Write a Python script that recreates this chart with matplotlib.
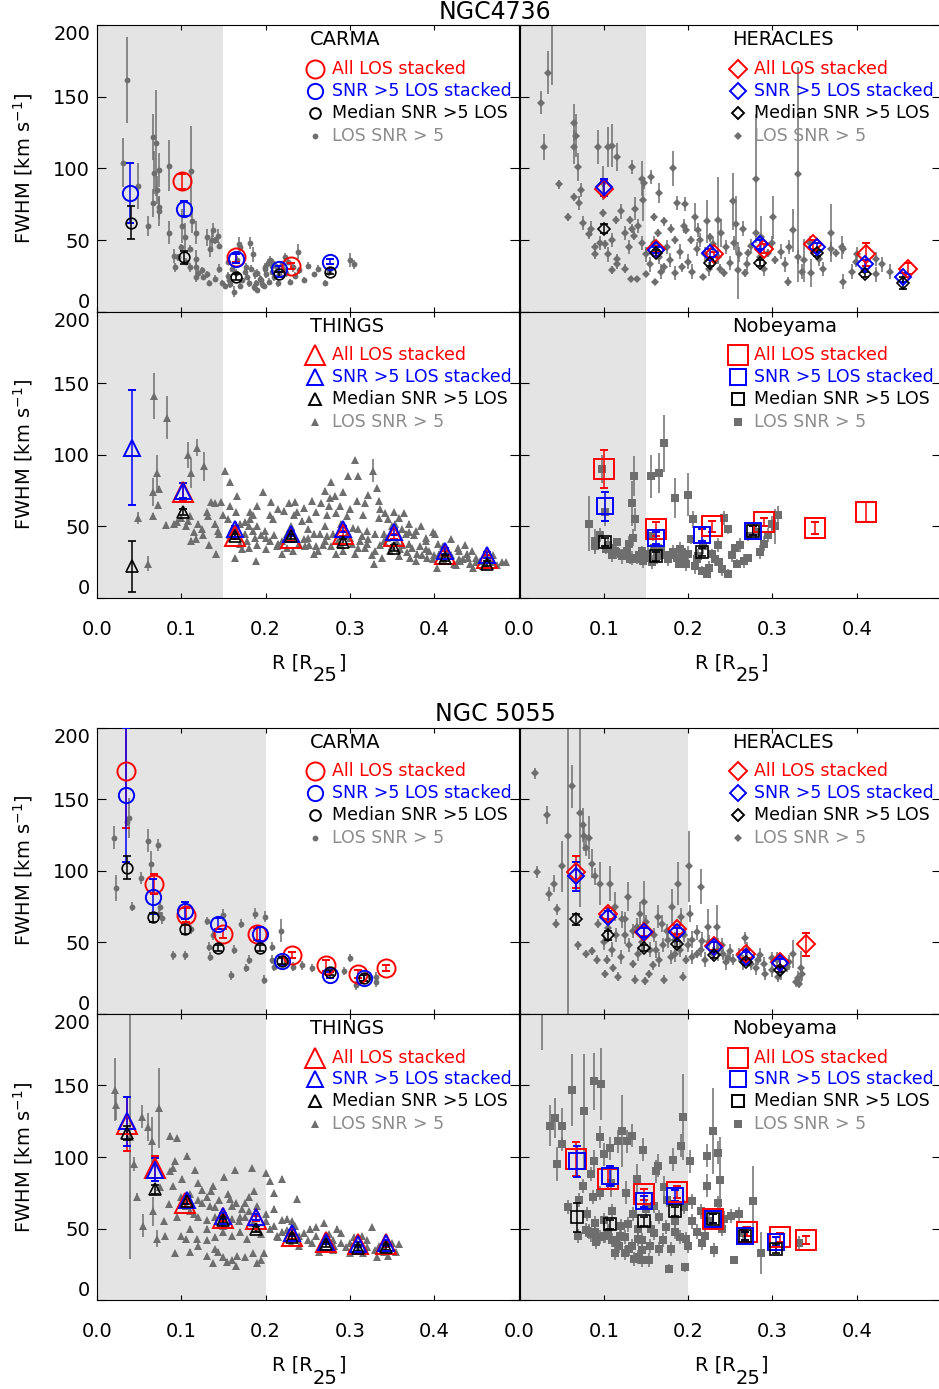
import numpy as np
import matplotlib.pyplot as plt

plt.rcParams.update({'font.family': 'DejaVu Sans', 'mathtext.default': 'regular'})

# ---------------- NGC4736 ----------------
# CARMA, single lines of sight (radius, FWHM, error)
n4736_carma_r = [0.035, 0.031, 0.049, 0.060, 0.066, 0.070, 0.068, 0.073, 0.071, 0.067,
                 0.073, 0.074, 0.086, 0.085, 0.091, 0.092, 0.112, 0.101, 0.104, 0.113,
                 0.117, 0.118, 0.118, 0.110, 0.117, 0.126, 0.133, 0.131, 0.136, 0.138,
                 0.134, 0.143, 0.145, 0.148, 0.152, 0.156, 0.162, 0.168, 0.166, 0.182,
                 0.185, 0.178, 0.172, 0.189, 0.195, 0.198, 0.203, 0.199, 0.208, 0.221,
                 0.170, 0.177, 0.187, 0.190, 0.199, 0.205, 0.209, 0.223, 0.238, 0.233,
                 0.245, 0.257, 0.270, 0.275, 0.229, 0.300, 0.305]
n4736_carma_v = [162, 104, 88, 60, 122, 118, 97, 99, 85, 76,
                 73, 70, 102, 55, 39, 31, 98, 60, 52, 63,
                 55, 37, 31, 31, 24, 24, 20, 52, 50, 57,
                 44, 53, 30, 20, 18, 22, 14, 47, 36, 48,
                 40, 24, 22, 20, 22, 18, 34, 31, 32, 30,
                 45, 31, 26, 15, 30, 36, 34, 38, 42, 31,
                 22, 26, 20, 28, 21, 36, 33]
n4736_carma_e = [30, 17, 16, 7, 16, 37, 15, 12, 10, 10,
                 8, 10, 18, 8, 5, 3, 32, 12, 10, 8,
                 8, 6, 4, 3, 3, 2, 2, 6, 8, 5,
                 6, 5, 3, 2, 2, 2, 4, 5, 3, 4,
                 5, 2, 2, 2, 3, 2, 3, 3, 3, 3,
                 3, 3, 3, 2, 3, 3, 3, 3, 5, 3,
                 2, 2, 2, 3, 2, 5, 3]
# densely packed low-error points
n4736_carma_dr = [0.155, 0.158, 0.165, 0.170, 0.175, 0.180, 0.183, 0.186, 0.190, 0.193,
                  0.196, 0.200, 0.204, 0.207, 0.210, 0.213, 0.216, 0.219, 0.224, 0.227,
                  0.235, 0.240, 0.250, 0.262, 0.155, 0.160, 0.215, 0.120, 0.125, 0.140,
                  0.130, 0.096, 0.105, 0.100, 0.110, 0.145, 0.140]
n4736_carma_dv = [25, 19, 27, 18, 28, 20, 30, 17, 27, 23,
                  19, 26, 21, 28, 24, 31, 26, 33, 27, 35,
                  25, 29, 32, 30, 35, 30, 20, 27, 29, 23,
                  26, 38, 35, 45, 44, 46, 50]
# stacked spectra and medians
n4736_carma_all = ([0.1005, 0.1645, 0.2301], [91, 38, 32], [5, 3, 2])
n4736_carma_snr = ([0.039, 0.1036, 0.1645, 0.2163, 0.276], [83, 72, 37, 30, 35], [21, 5.5, 3, 2, 2])
n4736_carma_med = ([0.040, 0.1036, 0.1645, 0.2163, 0.276], [62, 38, 24, 26, 28], [11.5, 4.5, 2, 2, 2])

# HERACLES
n4736_hera_r = [0.034, 0.038, 0.025, 0.029, 0.047, 0.058, 0.065, 0.065, 0.067, 0.069,
                0.065, 0.071, 0.073, 0.082, 0.090, 0.090, 0.093, 0.099, 0.099, 0.102,
                0.105, 0.110, 0.116, 0.115, 0.116, 0.116, 0.110, 0.125, 0.133, 0.137,
                0.131, 0.134, 0.136, 0.132, 0.139, 0.145, 0.148, 0.147, 0.150, 0.156,
                0.160, 0.161, 0.166, 0.164, 0.172, 0.172, 0.180, 0.182, 0.184, 0.187,
                0.196, 0.193, 0.198, 0.204, 0.208, 0.214, 0.218, 0.222, 0.226, 0.236,
                0.238, 0.239, 0.243, 0.253, 0.257, 0.259, 0.267, 0.271, 0.281, 0.280,
                0.287, 0.295, 0.301, 0.303, 0.319, 0.324, 0.330, 0.338, 0.346, 0.369,
                0.376, 0.382, 0.384, 0.409, 0.423, 0.423, 0.399, 0.384]
n4736_hera_v = [167, 205, 146, 115, 89, 66, 132, 115, 123, 101,
                80, 76, 85, 54, 45, 40, 115, 90, 69, 47,
                115, 116, 108, 64, 37, 33, 29, 30, 101, 72,
                64, 58, 53, 23, 23, 93, 90, 78, 26, 94,
                66, 21, 83, 55, 63, 31, 58, 100, 50, 76,
                75, 31, 57, 50, 66, 50, 24, 63, 52, 64,
                30, 55, 27, 77, 61, 29, 27, 41, 93, 55,
                52, 41, 66, 36, 21, 57, 96, 36, 27, 55,
                41, 45, 21, 29, 26, 37, 35, 44]
n4736_hera_e = [15, 47, 8, 9, 3, 3, 13, 12, 15, 10,
                3, 5, 5, 3, 3, 3, 12, 12, 3, 3,
                14, 15, 10, 3, 3, 3, 3, 3, 5, 8,
                3, 3, 3, 2, 2, 12, 4, 15, 2, 5,
                3, 2, 7, 3, 3, 3, 3, 12, 3, 5,
                5, 3, 3, 3, 10, 5, 2, 15, 3, 30,
                3, 10, 3, 20, 20, 20, 3, 3, 45, 3,
                15, 3, 15, 3, 3, 15, 75, 15, 10, 20,
                3, 8, 5, 3, 5, 5, 4, 4]
n4736_hera_dr = [0.150, 0.155, 0.160, 0.165, 0.168, 0.175, 0.178, 0.185, 0.190, 0.195,
                 0.200, 0.205, 0.210, 0.212, 0.220, 0.225, 0.230, 0.235, 0.245, 0.250,
                 0.255, 0.260, 0.265, 0.270, 0.275, 0.285, 0.290, 0.300, 0.310, 0.315,
                 0.320, 0.330, 0.335, 0.345, 0.355, 0.360, 0.370, 0.395, 0.400, 0.430,
                 0.440, 0.120, 0.125, 0.130, 0.140, 0.145, 0.110, 0.105, 0.095, 0.085,
                 0.075]
n4736_hera_dv = [40, 33, 48, 38, 28, 45, 36, 27, 42, 60,
                 35, 28, 44, 57, 40, 30, 47, 38, 45, 34,
                 48, 40, 58, 33, 46, 38, 30, 48, 42, 33,
                 45, 38, 28, 48, 37, 30, 44, 28, 40, 33,
                 28, 70, 55, 45, 60, 48, 50, 40, 48, 58,
                 62]
n4736_hera_all = ([0.100, 0.1623, 0.2307, 0.290, 0.3482, 0.4114, 0.4609],
                  [86, 44, 40, 44, 47, 40, 30], [5, 2, 2, 3, 3, 8, 4])
n4736_hera_snr = ([0.100, 0.1623, 0.2256, 0.2857, 0.353, 0.4094, 0.455],
                  [87, 43, 41, 47, 45, 33, 24], [6, 2, 3, 3, 3, 3, 3])
n4736_hera_med = ([0.100, 0.1623, 0.2256, 0.2857, 0.353, 0.4094, 0.455],
                  [58, 41, 34, 34, 41, 26, 20], [3, 2, 2, 2, 2, 2, 4])

# THINGS
n4736_things_r = [0.060, 0.049, 0.068, 0.083, 0.067, 0.071, 0.073, 0.067, 0.072, 0.082,
                  0.091, 0.108, 0.112, 0.119, 0.127, 0.108, 0.111, 0.118, 0.126, 0.132,
                  0.135, 0.140, 0.147, 0.133, 0.141, 0.144, 0.152, 0.158, 0.158, 0.166,
                  0.158, 0.164, 0.172, 0.178, 0.182, 0.182, 0.187, 0.189, 0.197, 0.199,
                  0.201, 0.206, 0.209, 0.213, 0.219, 0.222, 0.225, 0.235, 0.237, 0.243,
                  0.247, 0.255, 0.257, 0.265, 0.271, 0.277, 0.275, 0.282, 0.284, 0.280,
                  0.284, 0.298, 0.306, 0.310, 0.308, 0.304, 0.312, 0.320, 0.327, 0.332,
                  0.334, 0.334, 0.328, 0.340, 0.342, 0.354, 0.364, 0.366, 0.371, 0.379,
                  0.383, 0.391, 0.401, 0.403, 0.415, 0.423, 0.431, 0.439, 0.446, 0.454,
                  0.470, 0.480, 0.240, 0.250, 0.260, 0.270, 0.290, 0.300, 0.310, 0.320,
                  0.330, 0.340, 0.350, 0.360, 0.370, 0.380, 0.390, 0.400, 0.410, 0.420,
                  0.430, 0.440, 0.450, 0.460, 0.220, 0.210, 0.200, 0.190, 0.175, 0.165,
                  0.230, 0.250, 0.270, 0.290, 0.310, 0.330, 0.350, 0.370, 0.390, 0.410,
                  0.430]
n4736_things_v = [24, 56, 141, 126, 74, 87, 76, 57, 65, 51,
                  52, 100, 87, 105, 92, 54, 40, 41, 44, 57,
                  67, 66, 67, 37, 31, 47, 89, 81, 64, 71,
                  44, 28, 34, 40, 60, 55, 42, 26, 74, 47,
                  34, 67, 55, 36, 31, 61, 45, 67, 60, 54,
                  36, 68, 31, 45, 75, 81, 64, 71, 59, 45,
                  31, 85, 96, 85, 68, 49, 40, 47, 89, 77,
                  68, 56, 24, 45, 59, 52, 59, 45, 28, 47,
                  36, 28, 45, 21, 33, 24, 26, 31, 21, 26,
                  25, 25, 38, 42, 36, 40, 37, 42, 35, 38,
                  33, 40, 36, 34, 38, 31, 34, 30, 28, 30,
                  27, 28, 25, 24, 40, 44, 42, 50, 53, 50,
                  50, 48, 50, 52, 48, 45, 50, 46, 42, 36,
                  33]
n4736_things_e = [5, 4, 16, 15, 10, 13, 2, 2, 2, 2,
                  2, 9, 10, 6, 10, 2, 2, 2, 2, 2] + [1.5] * 48 + [8] + [1.5] * 62
n4736_things_dr = [0.170, 0.180, 0.190, 0.195, 0.205, 0.215, 0.225, 0.232, 0.245, 0.252,
                   0.258, 0.262, 0.268, 0.273, 0.278, 0.286, 0.292, 0.296, 0.302, 0.306,
                   0.314, 0.318, 0.322, 0.326, 0.336, 0.338, 0.344, 0.348, 0.356, 0.358,
                   0.362, 0.368, 0.374, 0.378, 0.386, 0.394, 0.398, 0.406, 0.412, 0.418,
                   0.426, 0.434, 0.442, 0.450, 0.458, 0.465, 0.475, 0.485,
                   0.185, 0.190, 0.205, 0.215, 0.228, 0.234, 0.245, 0.252, 0.260, 0.266,
                   0.273, 0.276, 0.288, 0.292, 0.296, 0.300, 0.315, 0.318, 0.322, 0.336,
                   0.345, 0.352, 0.358, 0.362, 0.370, 0.376, 0.384, 0.390, 0.398, 0.405,
                   0.420, 0.428, 0.436, 0.445, 0.460, 0.470,
                   0.155, 0.160, 0.165, 0.170, 0.175, 0.180, 0.185, 0.140, 0.145, 0.150,
                   0.125, 0.120, 0.115, 0.130, 0.110, 0.105, 0.095, 0.100]
n4736_things_dv = [38, 35, 37, 44, 40, 38, 35, 33, 41, 37,
                   45, 33, 37, 43, 36, 40, 33, 44, 38, 31,
                   43, 35, 41, 30, 37, 28, 42, 33, 39, 29,
                   37, 32, 35, 26, 30, 33, 27, 31, 26, 29,
                   23, 27, 24, 28, 22, 27, 23, 25,
                   58, 64, 58, 62, 66, 58, 63, 55, 60, 66,
                   58, 70, 64, 74, 57, 62, 58, 66, 72, 62,
                   55, 60, 56, 48, 52, 44, 50, 40, 46, 38,
                   41, 35, 37, 33, 31, 30,
                   55, 48, 60, 52, 45, 50, 47, 52, 45, 58,
                   48, 52, 46, 60, 57, 50, 53, 56]
n4736_things_all = ([0.1016, 0.1637, 0.230, 0.2914, 0.3523, 0.4128, 0.4623],
                    [74, 43, 42, 45, 43, 31, 28], [6, 2, 2, 2, 2, 2, 2])
n4736_things_snr = ([0.0419, 0.1016, 0.1637, 0.230, 0.2914, 0.3523, 0.4128, 0.4623],
                    [105, 75, 48, 45, 48, 46, 33, 30], [40, 5, 2, 2, 2, 2, 2, 2])
n4736_things_med = ([0.0419, 0.1016, 0.1637, 0.230, 0.2914, 0.3523, 0.4128, 0.4623],
                    [22, 60, 43, 43, 39, 35, 28, 24], [18, 2, 2, 2, 2, 2, 2, 2])

# Nobeyama
n4736_nro_r = [0.082, 0.089, 0.098, 0.102, 0.103, 0.107, 0.113, 0.116, 0.120, 0.127,
               0.131, 0.134, 0.136, 0.137, 0.135, 0.139, 0.145, 0.150, 0.156, 0.158,
               0.165, 0.171, 0.180, 0.184, 0.189, 0.195, 0.200, 0.206, 0.204, 0.210,
               0.217, 0.222, 0.228, 0.237, 0.243, 0.247, 0.247, 0.256, 0.258, 0.271,
               0.271, 0.290, 0.303, 0.307, 0.172, 0.160, 0.193]
n4736_nro_v = [52, 40, 90, 60, 34, 35, 33, 39, 31, 30,
               27, 66, 85, 55, 42, 27, 33, 28, 85, 43,
               87, 108, 30, 70, 24, 28, 72, 55, 41, 27,
               19, 17, 31, 25, 56, 48, 17, 35, 24, 28,
               43, 38, 50, 58, 30, 35, 32]
n4736_nro_e = [19, 8, 10, 10, 3, 3, 3, 3, 3, 3,
               3, 16, 14, 8, 6, 3, 3, 3, 15, 3,
               14, 20, 3, 14, 3, 3, 15, 6, 3, 3,
               3, 3, 3, 3, 5, 3, 3, 3, 3, 3,
               3, 5, 12, 6, 3, 3, 3]
n4736_nro_dr = [0.105, 0.110, 0.115, 0.122, 0.128, 0.133, 0.142, 0.147, 0.153, 0.157,
                0.163, 0.168, 0.176, 0.182, 0.187, 0.190, 0.198, 0.200, 0.208, 0.212,
                0.225, 0.232, 0.240, 0.252, 0.262, 0.266, 0.280, 0.285, 0.295, 0.300,
                0.235, 0.218, 0.130, 0.090, 0.095]
n4736_nro_dv = [37, 30, 32, 29, 33, 28, 30, 26, 31, 25,
                29, 33, 27, 32, 28, 34, 24, 31, 22, 29,
                21, 27, 20, 30, 37, 26, 46, 32, 44, 52,
                37, 36, 38, 36, 44]
n4736_nro_all = ([0.100, 0.1623, 0.2287, 0.2896, 0.3501, 0.4114],
                 [90, 48, 50, 53, 49, 60], [13, 5, 4, 3, 4, 7])
n4736_nro_snr = ([0.1018, 0.1623, 0.2169, 0.277], [64, 42, 44, 47], [10, 4, 4, 3])
n4736_nro_med = ([0.1018, 0.1623, 0.2169, 0.277], [39, 29, 32, 47], [3, 3, 3, 3])

# ---------------- NGC 5055 ----------------
n5055_carma_r = [0.020, 0.023, 0.035, 0.038, 0.042, 0.052, 0.060, 0.064, 0.072, 0.075,
                 0.077, 0.074, 0.090, 0.104, 0.112, 0.130, 0.134, 0.133, 0.138, 0.149,
                 0.159, 0.163, 0.171, 0.177, 0.180, 0.187, 0.199, 0.198, 0.207, 0.208,
                 0.218, 0.224, 0.233, 0.243, 0.255, 0.293, 0.300, 0.307, 0.324, 0.331,
                 0.331, 0.210]
n5055_carma_v = [123, 88, 134, 137, 75, 95, 121, 105, 118, 75,
                 67, 70, 41, 41, 59, 65, 40, 47, 55, 69,
                 27, 45, 63, 32, 38, 70, 68, 24, 38, 47,
                 58, 37, 33, 34, 32, 30, 39, 20, 26, 22,
                 26, 33]
n5055_carma_e = [8, 9, 3, 14, 3, 4, 8, 9, 4, 3,
                 4, 3, 3, 3, 3, 3, 3, 3, 3, 4,
                 3, 3, 3, 3, 3, 4, 4, 3, 3, 3,
                 8, 3, 3, 3, 3, 3, 3, 3, 3, 3,
                 3, 3]
n5055_carma_dr = []
n5055_carma_dv = []
n5055_carma_all = ([0.0344, 0.068, 0.1056, 0.1491, 0.1894, 0.231, 0.2716, 0.310, 0.3428],
                   [170, 91, 69, 56, 56, 41, 34, 28, 32], [40, 7, 5, 3, 4, 2, 4, 3, 2])
n5055_carma_snr = ([0.0344, 0.0668, 0.1044, 0.1439, 0.1934, 0.2191, 0.2764, 0.3171],
                   [153, 82, 72, 63, 56, 37, 27, 25], [47, 12, 6, 4, 5, 3, 2, 2])
n5055_carma_med = ([0.036, 0.0668, 0.1044, 0.1439, 0.1934, 0.2191, 0.2764, 0.3171],
                   [102, 67.5, 59, 46, 46, 37, 29, 25], [8, 3, 3, 2, 2, 2, 2, 2])

n5055_hera_r = [0.018, 0.033, 0.021, 0.035, 0.041, 0.045, 0.043, 0.050, 0.058, 0.062,
                0.072, 0.069, 0.075, 0.077, 0.079, 0.083, 0.086, 0.090, 0.095, 0.093,
                0.079, 0.086, 0.092, 0.102, 0.107, 0.113, 0.104, 0.111, 0.117, 0.121,
                0.125, 0.129, 0.135, 0.137, 0.139, 0.143, 0.148, 0.149, 0.154, 0.158,
                0.162, 0.164, 0.169, 0.172, 0.176, 0.181, 0.184, 0.188, 0.191, 0.194,
                0.198, 0.201, 0.202, 0.205, 0.210, 0.215, 0.217, 0.224, 0.234, 0.235,
                0.241, 0.247, 0.253, 0.267, 0.275, 0.283, 0.291, 0.299, 0.307, 0.317,
                0.324, 0.328, 0.334, 0.332]
n5055_hera_v = [168, 139, 99, 84, 91, 73, 63, 103, 124, 159,
                140, 48, 132, 124, 116, 123, 105, 96, 91, 63,
                42, 44, 38, 28, 91, 75, 38, 32, 26, 66,
                55, 82, 35, 24, 61, 70, 78, 23, 28, 34,
                45, 68, 63, 24, 52, 75, 42, 91, 68, 26,
                38, 103, 70, 52, 42, 89, 51, 61, 61, 45,
                42, 39, 38, 53, 35, 38, 28, 39, 26, 33,
                42, 22, 32, 21]
n5055_hera_e = [4, 6, 4, 5, 6, 4, 3, 18, 125, 15,
                65, 3, 12, 10, 6, 15, 10, 6, 15, 3,
                3, 3, 3, 3, 12, 10, 3, 3, 3, 6,
                6, 10, 3, 3, 6, 8, 15, 3, 3, 3,
                6, 8, 6, 3, 6, 12, 6, 15, 6, 3,
                3, 25, 6, 6, 3, 12, 6, 12, 15, 8,
                4, 4, 4, 4, 4, 4, 4, 4, 4, 4,
                10, 3, 12, 3]
n5055_hera_dr = [0.100, 0.105, 0.110, 0.115, 0.120, 0.125, 0.130, 0.135, 0.140, 0.145,
                 0.150, 0.155, 0.160, 0.165, 0.170, 0.175, 0.180, 0.185, 0.190, 0.195,
                 0.200, 0.205, 0.210, 0.215, 0.220, 0.225, 0.230, 0.240, 0.245, 0.250,
                 0.260, 0.265, 0.270, 0.280, 0.285, 0.290, 0.300, 0.305, 0.310, 0.320,
                 0.330, 0.335]
n5055_hera_dv = [50, 60, 45, 55, 40, 66, 48, 58, 42, 50,
                 64, 45, 55, 38, 48, 58, 40, 52, 45, 55,
                 48, 40, 57, 45, 38, 50, 42, 48, 36, 44,
                 41, 36, 45, 32, 41, 35, 31, 38, 29, 36,
                 25, 28]
n5055_hera_all = ([0.0674, 0.105, 0.1473, 0.1872, 0.2303, 0.2691, 0.3086, 0.3403],
                  [99, 70, 57.5, 59, 47.5, 42, 36.5, 48.6], [11, 4, 3, 3, 3, 3, 3, 8])
n5055_hera_snr = ([0.0674, 0.105, 0.1473, 0.1872, 0.2303, 0.2691, 0.3086],
                  [96, 68, 57, 57, 47, 40, 35.4], [10, 4, 3, 3, 3, 3, 3])
n5055_hera_med = ([0.0674, 0.105, 0.1473, 0.1872, 0.2303, 0.2691, 0.3086],
                  [66, 55, 46, 49, 41, 36, 31], [4, 3, 2, 2, 2, 2, 2])

n5055_things_r = [0.021, 0.023, 0.039, 0.044, 0.047, 0.053, 0.055, 0.061, 0.065, 0.067,
                  0.071, 0.073, 0.075, 0.081, 0.087, 0.087, 0.095, 0.093, 0.101, 0.105,
                  0.107, 0.110, 0.116, 0.119, 0.125, 0.130, 0.134, 0.138, 0.138, 0.143,
                  0.151, 0.154, 0.158, 0.164, 0.166, 0.168, 0.172, 0.178, 0.184, 0.186,
                  0.190, 0.198, 0.200, 0.205, 0.210, 0.214, 0.219, 0.225, 0.231, 0.237,
                  0.253, 0.263, 0.269, 0.281, 0.289, 0.300, 0.314, 0.326, 0.332, 0.340,
                  0.358, 0.120, 0.130, 0.140, 0.150, 0.160, 0.170, 0.175, 0.180, 0.190,
                  0.200, 0.210, 0.220, 0.240, 0.250, 0.260, 0.270, 0.280, 0.290, 0.300,
                  0.310, 0.320, 0.330, 0.340, 0.150, 0.160, 0.140, 0.130, 0.120, 0.110,
                  0.100, 0.090]
n5055_things_v = [147, 136, 114, 95, 72, 128, 52, 121, 111, 62,
                  43, 134, 79, 45, 90, 115, 113, 33, 85, 43,
                  101, 34, 91, 43, 77, 31, 66, 80, 26, 34,
                  86, 27, 71, 91, 31, 55, 64, 43, 92, 76,
                  26, 33, 89, 83, 75, 45, 85, 57, 55, 71,
                  50, 34, 54, 38, 47, 33, 45, 51, 30, 34,
                  39, 70, 72, 65, 62, 66, 58, 68, 62, 50,
                  55, 52, 48, 45, 42, 45, 44, 42, 40, 40,
                  36, 37, 35, 36, 48, 45, 44, 50, 58, 62,
                  72, 80]
n5055_things_e = [22, 10, 85, 5, 3, 8, 8, 10, 17, 10,
                  6, 28] + [1.5] * 80
n5055_things_dr = [0.105, 0.110, 0.115, 0.120, 0.125, 0.130, 0.135, 0.140, 0.145, 0.150,
                   0.155, 0.160, 0.165, 0.170, 0.175, 0.180, 0.185, 0.190, 0.195, 0.200,
                   0.205, 0.210, 0.215, 0.220, 0.225, 0.230, 0.235, 0.240, 0.245, 0.255,
                   0.260, 0.265, 0.275, 0.280, 0.285, 0.295, 0.305, 0.315, 0.320, 0.335,
                   0.345, 0.350, 0.355, 0.140, 0.150, 0.160, 0.165, 0.175, 0.185, 0.195,
                   0.130, 0.120, 0.110, 0.100, 0.095, 0.085, 0.080, 0.090, 0.092]
n5055_things_dv = [66, 74, 60, 82, 68, 56, 76, 58, 70, 52,
                   74, 57, 68, 48, 58, 72, 54, 66, 46, 60,
                   50, 64, 44, 56, 49, 40, 52, 38, 47, 40,
                   51, 37, 46, 35, 50, 37, 44, 33, 42, 38,
                   31, 40, 34, 36, 30, 28, 24, 30, 33, 28,
                   42, 38, 50, 45, 58, 67, 55, 92, 97]
n5055_things_all = ([0.0352, 0.0688, 0.1044, 0.149, 0.1886, 0.231, 0.2716, 0.310, 0.3428],
                    [123, 92, 68, 57.5, 57, 45, 41, 39, 39], [19, 9, 3, 2, 2, 2, 2, 2, 2])
n5055_things_snr = ([0.0352, 0.0688, 0.1064, 0.149, 0.1886, 0.231, 0.2716, 0.310, 0.3428],
                    [125, 91, 70, 59, 58, 47, 41, 39, 40], [17, 8, 3, 2, 2, 2, 2, 2, 2])
n5055_things_med = ([0.0352, 0.0688, 0.1064, 0.149, 0.1886, 0.231, 0.2716, 0.310, 0.3428],
                    [117, 77.5, 69, 56, 50, 44, 39, 36.5, 37], [5, 3, 2, 2, 2, 2, 2, 2, 2])

n5055_nro_r = [0.027, 0.036, 0.042, 0.045, 0.050, 0.050, 0.058, 0.062, 0.069, 0.077,
               0.079, 0.083, 0.088, 0.088, 0.087, 0.091, 0.097, 0.096, 0.100, 0.102,
               0.107, 0.108, 0.113, 0.117, 0.119, 0.121, 0.126, 0.127, 0.129, 0.133,
               0.133, 0.136, 0.139, 0.141, 0.145, 0.147, 0.154, 0.156, 0.160, 0.162,
               0.166, 0.164, 0.171, 0.174, 0.177, 0.182, 0.184, 0.192, 0.194, 0.196,
               0.198, 0.202, 0.205, 0.216, 0.222, 0.223, 0.230, 0.231, 0.236, 0.238,
               0.243, 0.251, 0.254, 0.277, 0.287, 0.332]
n5055_nro_v = [205, 122, 127, 95, 122, 109, 65, 147, 45, 132,
               49, 48, 153, 97, 72, 41, 151, 114, 102, 45,
               106, 82, 33, 111, 45, 118, 75, 111, 53, 115,
               38, 29, 85, 43, 35, 105, 28, 50, 66, 90,
               36, 94, 79, 51, 22, 98, 48, 108, 128, 23,
               43, 97, 69, 40, 80, 101, 118, 35, 103, 84,
               57, 59, 28, 69, 33, 40]
n5055_nro_e = [30, 14, 14, 12, 12, 5, 5, 25, 5, 40,
               5, 5, 20, 8, 5, 5, 25, 8, 8, 5,
               8, 10, 5, 8, 5, 25, 8, 8, 5, 8,
               5, 5, 10, 5, 5, 8, 5, 5, 5, 8,
               5, 8, 8, 5, 3, 8, 5, 8, 30, 3,
               5, 8, 5, 5, 8, 8, 30, 5, 8, 30,
               5, 5, 3, 25, 15, 5]
n5055_nro_dr = [0.100, 0.105, 0.110, 0.115, 0.120, 0.125, 0.130, 0.135, 0.140, 0.145,
                0.150, 0.155, 0.160, 0.165, 0.170, 0.175, 0.180, 0.185, 0.190, 0.195,
                0.200, 0.205, 0.210, 0.215, 0.220, 0.225, 0.235, 0.240, 0.260, 0.265,
                0.070, 0.075, 0.080, 0.085, 0.090, 0.095, 0.140, 0.145, 0.125, 0.118,
                0.110, 0.100, 0.095, 0.090, 0.085]
n5055_nro_dv = [56, 48, 62, 40, 52, 44, 36, 60, 50, 42,
                64, 38, 47, 58, 42, 70, 36, 55, 44, 65,
                38, 55, 48, 62, 45, 55, 68, 50, 60, 47,
                70, 80, 60, 88, 54, 75, 30, 28, 33, 38,
                42, 45, 44, 48, 46]
n5055_nro_all = ([0.0674, 0.105, 0.1473, 0.1872, 0.2295, 0.2699, 0.3086, 0.3403],
                 [98.5, 85, 74, 75.6, 57, 48, 44, 42], [12, 7, 4, 4, 3, 3, 3, 3])
n5055_nro_snr = ([0.0686, 0.107, 0.1473, 0.1849, 0.2295, 0.2671, 0.3047],
                 [97, 87, 69, 73, 57, 45, 41], [11, 7, 4, 4, 3, 3, 3])
n5055_nro_med = ([0.0686, 0.107, 0.1473, 0.1849, 0.2295, 0.2671, 0.3047],
                 [58, 53, 55, 62, 57, 45, 36], [10, 3, 3, 3, 3, 3, 3])

RED, BLUE, BLACK, GRAY = '#ff0000', '#0000ff', '#000000', '#6e6e6e'
# marker sizes: all stacked, SNR>5 stacked, median, single LOS
SIZES = {'o': (13, 11, 7.7, 4.2), 'D': (9.2, 8.0, 6.3, 3.9),
         '^': (13.7, 11.5, 8.4, 5.6), 's': (13.9, 11.5, 8.6, 5.6)}
# typical error bar of the densely packed points, per marker
DENSE_ERR = {'o': 2.5, 'D': 5, '^': 1.5, 's': 5}


def draw_panel(ax, name, marker, shade, r, v, e, dr, dv, allst, snrst, med):
    ms = SIZES[marker]
    ax.axvspan(0, shade, color='#e4e4e4', lw=0, zorder=0)
    ax.errorbar(r, v, yerr=e, fmt=marker, color=GRAY, ms=ms[3], mew=0,
                elinewidth=1.1, capsize=0, zorder=2)
    if dr:
        ax.errorbar(dr, dv, yerr=DENSE_ERR[marker], fmt=marker, color=GRAY, ms=ms[3], mew=0,
                    elinewidth=1.1, capsize=0, zorder=2)
    for (sr, sv, se), col, size, lw in ((allst, RED, ms[0], 1.4), (snrst, BLUE, ms[1], 1.4),
                                        (med, BLACK, ms[2], 1.2)):
        ax.errorbar(sr, sv, yerr=se, fmt=marker, mfc='none', mec=col, ecolor=col, ms=size,
                    mew=lw, elinewidth=1.1, capsize=3.2, capthick=1.1, zorder=3)

    # hand-made legend in the upper right
    ax.text(0.505, 0.949, name, transform=ax.transAxes, fontsize=14, va='center', ha='left')
    rows = [(0.847, RED, ms[0], 'All LOS stacked', RED, False),
            (0.771, BLUE, ms[1], 'SNR >5 LOS stacked', BLUE, False),
            (0.694, BLACK, ms[2], 'Median SNR >5 LOS', BLACK, False),
            (0.614, GRAY, ms[3], 'LOS SNR > 5', '#8c8c8c', True)]
    for y, col, size, label, tcol, filled in rows:
        ax.plot([0.518], [y], marker, transform=ax.transAxes, clip_on=False, ms=size,
                mfc=col if filled else 'none', mec=col, mew=0 if filled else 1.4, zorder=5)
        ax.text(0.557, y, label, transform=ax.transAxes, fontsize=12.5, color=tcol,
                va='center', ha='left', zorder=5)

    ax.set_xlim(0, 0.5)
    ax.set_ylim(0, 200)
    ax.set_xticks([0, 0.1, 0.2, 0.3, 0.4, 0.5])
    ax.set_yticks([0, 50, 100, 150, 200])
    ax.tick_params(direction='in', top=True, right=True, width=0.8, labelsize=14)
    ax.tick_params(axis='x', length=3.6, pad=16)
    ax.tick_params(axis='y', length=6.5, pad=5)
    for sp in ax.spines.values():
        sp.set_linewidth(0.8)


fig = plt.figure(figsize=(9.39, 13.89), dpi=100)
W, H = 421.5 / 939, 286.4 / 1389
LEFT, RIGHT = 97 / 939, 519.5 / 939

blocks = [
    ('NGC4736', 0.15, 1 - 12 / 1389, 0.7756, 0.5695,
     [('CARMA', 'o', n4736_carma_r, n4736_carma_v, n4736_carma_e, n4736_carma_dr, n4736_carma_dv,
       n4736_carma_all, n4736_carma_snr, n4736_carma_med),
      ('HERACLES', 'D', n4736_hera_r, n4736_hera_v, n4736_hera_e, n4736_hera_dr, n4736_hera_dv,
       n4736_hera_all, n4736_hera_snr, n4736_hera_med),
      ('THINGS', '^', n4736_things_r, n4736_things_v, n4736_things_e, n4736_things_dr, n4736_things_dv,
       n4736_things_all, n4736_things_snr, n4736_things_med),
      ('Nobeyama', 's', n4736_nro_r, n4736_nro_v, n4736_nro_e, n4736_nro_dr, n4736_nro_dv,
       n4736_nro_all, n4736_nro_snr, n4736_nro_med)]),
    ('NGC 5055', 0.2, 1 - 714 / 1389, 0.2700, 0.0639,
     [('CARMA', 'o', n5055_carma_r, n5055_carma_v, n5055_carma_e, n5055_carma_dr, n5055_carma_dv,
       n5055_carma_all, n5055_carma_snr, n5055_carma_med),
      ('HERACLES', 'D', n5055_hera_r, n5055_hera_v, n5055_hera_e, n5055_hera_dr, n5055_hera_dv,
       n5055_hera_all, n5055_hera_snr, n5055_hera_med),
      ('THINGS', '^', n5055_things_r, n5055_things_v, n5055_things_e, n5055_things_dr, n5055_things_dv,
       n5055_things_all, n5055_things_snr, n5055_things_med),
      ('Nobeyama', 's', n5055_nro_r, n5055_nro_v, n5055_nro_e, n5055_nro_dr, n5055_nro_dv,
       n5055_nro_all, n5055_nro_snr, n5055_nro_med)]),
]

for galaxy, shade, ytitle, btop, bbot, panels in blocks:
    fig.text(495 / 939, ytitle, galaxy, ha='center', va='center', fontsize=17)
    positions = [(LEFT, btop), (RIGHT, btop), (LEFT, bbot), (RIGHT, bbot)]
    for i, ((x0, y0), p) in enumerate(zip(positions, panels)):
        ax = fig.add_axes([x0, y0, W, H])
        draw_panel(ax, p[0], p[1], shade, *p[2:])
        if i % 2 == 0:
            ax.set_ylabel('FWHM [km s$^{-1}$]', fontsize=14)
            ax.yaxis.set_label_coords(-0.147, 0.5)
            labs = ax.get_yticklabels()
            labs[0].set_va('bottom')
            labs[-1].set_va('top')
        else:
            ax.tick_params(labelleft=False)
        if i >= 2:
            ax.set_xticklabels(['0.0', '0.1', '0.2', '0.3', '0.4', ''])
            # axis title with a full-size, lowered subscript
            ax.text(0.5125, -0.227, 'R [R', transform=ax.transAxes, ha='right', va='center', fontsize=14)
            ax.text(0.5125, -0.272, '25', transform=ax.transAxes, ha='left', va='center', fontsize=14)
            ax.text(0.572, -0.227, ']', transform=ax.transAxes, ha='left', va='center', fontsize=14)
        else:
            ax.tick_params(labelbottom=False)

fig.savefig('out.png', dpi=100)
